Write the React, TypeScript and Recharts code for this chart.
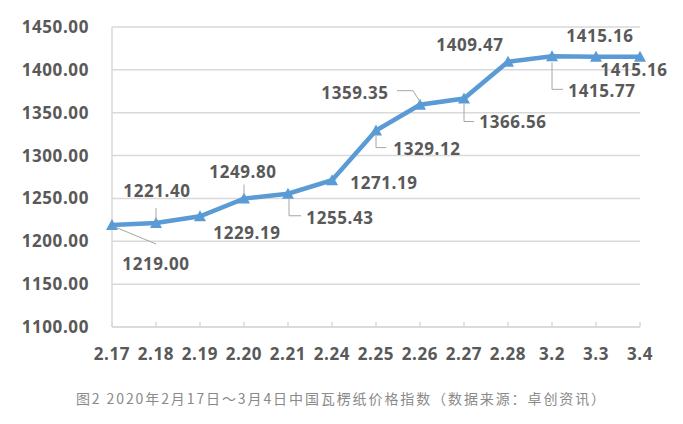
import React from 'react';
import { LineChart, Line, XAxis, YAxis, CartesianGrid, LabelList } from 'recharts';

// Corrugated paper price index, Feb 17 – Mar 4, 2020
const dates = ['2.17', '2.18', '2.19', '2.20', '2.21', '2.24', '2.25', '2.26', '2.27', '2.28', '3.2', '3.3', '3.4'];
const priceIndex = [1219.0, 1221.4, 1229.19, 1249.8, 1255.43, 1271.19, 1329.12, 1359.35, 1366.56, 1409.47, 1415.77, 1415.16, 1415.16];
const yTicks = [1100, 1150, 1200, 1250, 1300, 1350, 1400, 1450];
const caption = '图2 2020年2月17日～3月4日中国瓦楞纸价格指数（数据来源：卓创资讯）';

const data = dates.map((date, i) => ({ date, value: priceIndex[i] }));

// Where each value label sits relative to its point, plus an optional leader line
type Placement = { dx: number; dy: number; leader?: number[][] };
const labelPlacement: Placement[] = [
  { dx: 44, dy: 38, leader: [[3, 2], [44, 19]] },
  { dx: 1, dy: -32, leader: [[0, -15], [0, -3]] },
  { dx: 47, dy: 16 },
  { dx: -1, dy: -27, leader: [[0, -14], [0, -3]] },
  { dx: 52, dy: 24, leader: [[1, 4], [1, 22], [13, 22]] },
  { dx: 52, dy: 2 },
  { dx: 51, dy: 18, leader: [[0, 5], [0, 17], [10, 17]] },
  { dx: -65, dy: -12, leader: [[-23, -14], [-7, -14], [0, -3]] },
  { dx: 49, dy: 23, leader: [[0, 5], [0, 23], [10, 23]] },
  { dx: -38, dy: -17 },
  { dx: 50, dy: 34, leader: [[0, 6], [0, 33], [11, 33]] },
  { dx: 4, dy: -21 },
  { dx: -6, dy: 13 },
];

const FONT = "'Open Sans', 'Noto Sans', sans-serif";
const TEXT_COLOR = '#595959';
const LINE_COLOR = '#5B9BD5';
const GRID_COLOR = '#d9d9d9';

const TriangleDot = (props: any) => {
  const { cx, cy, index } = props;
  if (cx == null || cy == null) return <g key={`dot-${index}`} />;
  const w = 6;
  const h = 10;
  return (
    <path
      key={`dot-${index}`}
      d={`M${cx},${cy - h / 2 - 1} L${cx + w},${cy + h / 2} L${cx - w},${cy + h / 2} Z`}
      fill={LINE_COLOR}
    />
  );
};

const ValueLabel = (props: any) => {
  const { x, y, value, index } = props;
  const p = labelPlacement[index];
  if (!p || x == null || y == null) return null;
  return (
    <g>
      {p.leader && (
        <polyline
          points={p.leader.map(([lx, ly]) => `${x + lx},${y + ly}`).join(' ')}
          fill="none"
          stroke="#a6a6a6"
          strokeWidth={1}
        />
      )}
      <text
        x={x + p.dx}
        y={y + p.dy}
        textAnchor="middle"
        dominantBaseline="central"
        fill={TEXT_COLOR}
        fontFamily={FONT}
        fontWeight={700}
        fontSize={17}
        letterSpacing={0.6}
      >
        {Number(value).toFixed(2)}
      </text>
    </g>
  );
};

const XTick = (props: any) => {
  const { x, y, payload } = props;
  return (
    <g>
      <line x1={x} y1={y - 5} x2={x} y2={y} stroke={GRID_COLOR} strokeWidth={1.5} />
      <text
        x={x}
        y={y + 26}
        textAnchor="middle"
        dominantBaseline="central"
        fill={TEXT_COLOR}
        fontFamily={FONT}
        fontWeight={700}
        fontSize={17}
        letterSpacing={0.6}
      >
        {payload.value}
      </text>
    </g>
  );
};

export default function App() {
  return (
    <div style={{ position: 'absolute', left: 0, top: 0, width: 683, height: 424, background: '#fff' }}>
      <LineChart
        width={683}
        height={424}
        data={data}
        margin={{ top: 27, right: 43, left: 0, bottom: 57 }}
      >
        <CartesianGrid vertical={false} stroke={GRID_COLOR} strokeWidth={1.5} />
        <XAxis
          dataKey="date"
          height={40}
          axisLine={{ stroke: GRID_COLOR, strokeWidth: 1.5 }}
          tickLine={false}
          tickSize={0}
          tickMargin={0}
          tick={<XTick />}
          interval={0}
        />
        <YAxis
          width={112}
          domain={[1100, 1450]}
          ticks={yTicks}
          interval={0}
          allowDataOverflow
          axisLine={{ stroke: GRID_COLOR, strokeWidth: 1.5 }}
          tickLine={false}
          tickSize={0}
          tickMargin={23}
          tickFormatter={(v: number) => v.toFixed(2)}
          tick={{ fill: TEXT_COLOR, fontFamily: FONT, fontWeight: 700, fontSize: 17, letterSpacing: 0.6 } as any}
        />
        <Line
          type="linear"
          dataKey="value"
          stroke={LINE_COLOR}
          strokeWidth={4.5}
          dot={TriangleDot}
          activeDot={false}
          isAnimationActive={false}
        >
          <LabelList dataKey="value" content={ValueLabel} />
        </Line>
      </LineChart>
      <div
        style={{
          position: 'absolute',
          left: 0,
          top: 389,
          width: 683,
          textAlign: 'center',
          fontFamily: "'Noto Sans CJK SC', 'Noto Sans', sans-serif",
          fontSize: 14,
          letterSpacing: 1.9,
          color: '#8a8a8a',
          lineHeight: '18px',
          whiteSpace: 'nowrap',
        }}
      >
        {caption}
      </div>
    </div>
  );
}
